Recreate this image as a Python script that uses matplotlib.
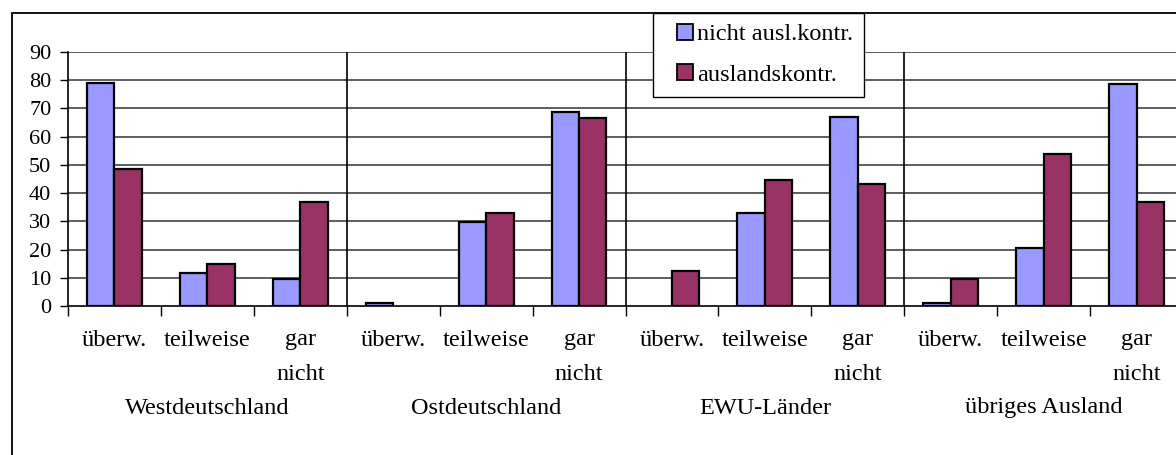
import matplotlib
matplotlib.use("Agg")
import matplotlib.pyplot as plt
from matplotlib.patches import Rectangle, Patch
from matplotlib.legend_handler import HandlerPatch
from matplotlib.transforms import blended_transform_factory
import numpy as np

regions = ["Westdeutschland", "Ostdeutschland", "EWU-Länder", "übriges Ausland"]
levels = [["überw."], ["teilweise"], ["gar", "nicht"]]
series_names = ["nicht ausl.kontr.", "auslandskontr."]
nicht_ausl = [79.0, 11.6, 9.7, 1.2, 29.7, 68.6, 0.0, 33.1, 66.8, 1.2, 20.6, 78.5]
ausl = [48.7, 14.9, 36.9, 0.0, 33.0, 66.6, 12.3, 44.6, 43.3, 9.6, 53.8, 36.9]
yticks = [0, 10, 20, 30, 40, 50, 60, 70, 80, 90]

plt.rcParams['font.family'] = ['Liberation Serif', 'DejaVu Serif']
FS = 17.5
FS_Y = 16

W, H = 1176, 455
fig = plt.figure(figsize=(W / 100, H / 100), dpi=100)

x0, x1 = 68, 1183
ytop, ybot = 52, 306
ax = fig.add_axes([x0 / W, 1 - ybot / H, (x1 - x0) / W, (ybot - ytop) / H])

n = len(nicht_ausl)
pos = np.arange(n) + 0.5
bw = 0.295
c_blue = '#9999FF'
c_red = '#993366'
for i in range(n):
    if nicht_ausl[i] > 0:
        ax.bar(pos[i] - bw / 2, nicht_ausl[i], width=bw, color=c_blue,
               edgecolor='black', linewidth=1.6, zorder=3)
    if ausl[i] > 0:
        ax.bar(pos[i] + bw / 2, ausl[i], width=bw, color=c_red,
               edgecolor='black', linewidth=1.6, zorder=3)

ax.set_xlim(0, n)
ax.set_ylim(0, 90)
ax.set_yticks(yticks)
ax.set_yticklabels([str(v) for v in yticks], fontsize=FS_Y)
for v in yticks[1:]:
    ax.axhline(v, color='#333333', lw=1.1, zorder=1)

for s in ['top', 'right']:
    ax.spines[s].set_visible(False)
ax.spines['left'].set_linewidth(1.2)
ax.spines['bottom'].set_linewidth(1.2)

for g in range(1, len(regions)):
    ax.axvline(g * 3, color='black', lw=1.2, zorder=2)

ax.set_xticks(np.arange(n + 1))
ax.set_xticklabels([])
ax.tick_params(axis='x', direction='out', length=7, width=1, color='black')
ax.tick_params(axis='y', direction='out', length=6, width=1, pad=6)

trans = blended_transform_factory(ax.transData, fig.transFigure)
line_y = [340, 374]
for i in range(n):
    for k, word in enumerate(levels[i % 3]):
        ax.text(pos[i], 1 - line_y[k] / H, word, transform=trans, ha='center',
                va='center', fontsize=FS)
for g, r in enumerate(regions):
    ax.text(g * 3 + 1.5, 1 - 408 / H, r, transform=trans, ha='center', va='center',
            fontsize=FS)

fig.patches.append(Rectangle((12 / W, -0.2), 2, 1 - 13 / H + 0.2, transform=fig.transFigure,
                             fill=False, edgecolor='black', lw=1.3, zorder=0))


class SquareHandler(HandlerPatch):
    def create_artists(self, legend, orig_handle, xdescent, ydescent, width, height,
                       fontsize, trans):
        s = height
        p = Rectangle((width - s - xdescent, -ydescent), s, s,
                      facecolor=orig_handle.get_facecolor(), edgecolor='black', lw=1.3)
        p.set_transform(trans)
        return [p]


handles = [Patch(facecolor=c_blue, edgecolor='black'),
           Patch(facecolor=c_red, edgecolor='black')]
leg = fig.legend(handles, series_names, loc='upper left',
                 bbox_to_anchor=(653 / W, 1 - 13 / H), borderaxespad=0,
                 fontsize=FS, frameon=True, fancybox=False, framealpha=1,
                 edgecolor='black', handlelength=1.2, handleheight=0.62,
                 handletextpad=0.15, labelspacing=0.78, borderpad=0.45,
                 handler_map={Patch: SquareHandler()})
leg.get_frame().set_linewidth(1.0)
leg.set_zorder(10)

fig.savefig('out.png', dpi=100)
